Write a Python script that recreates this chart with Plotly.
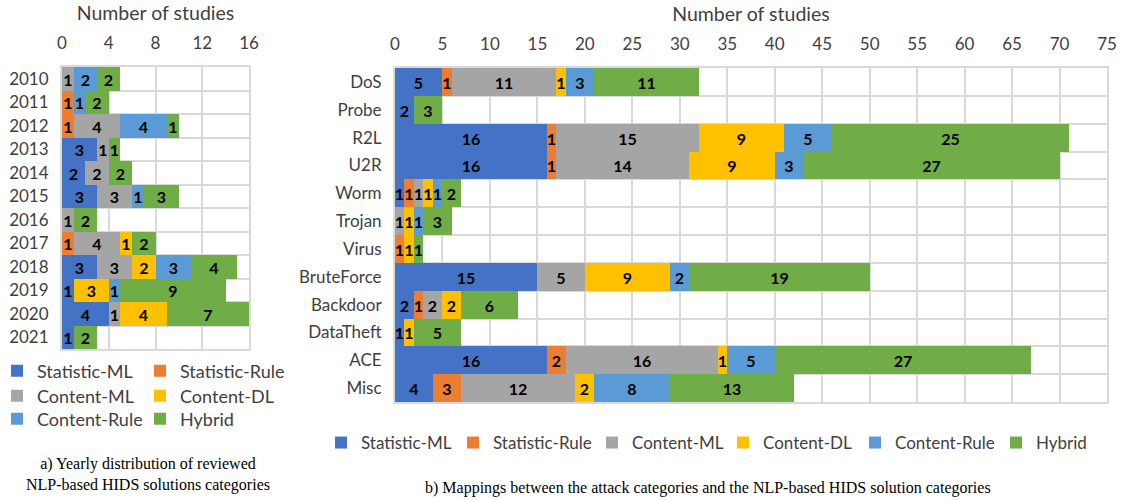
import plotly.graph_objects as go

# ---------------- data ----------------
categories = ["Statistic-ML", "Statistic-Rule", "Content-ML", "Content-DL", "Content-Rule", "Hybrid"]
colors = ["#4472C4", "#ED7D31", "#A5A5A5", "#FFC000", "#5B9BD5", "#70AD47"]

years = ["2010", "2011", "2012", "2013", "2014", "2015", "2016", "2017", "2018", "2019", "2020", "2021"]
year_stat_ml = [0, 0, 0, 3, 2, 3, 0, 0, 3, 1, 4, 1]
year_stat_rule = [0, 1, 1, 0, 0, 0, 0, 1, 0, 0, 0, 0]
year_content_ml = [1, 0, 4, 1, 2, 3, 1, 4, 3, 0, 1, 0]
year_content_dl = [0, 0, 0, 0, 0, 0, 0, 1, 2, 3, 4, 0]
year_content_rule = [2, 1, 4, 0, 0, 1, 0, 0, 3, 1, 0, 0]
year_hybrid = [2, 2, 1, 1, 2, 3, 2, 2, 4, 9, 7, 2]

attacks = ["DoS", "Probe", "R2L", "U2R", "Worm", "Trojan", "Virus", "BruteForce",
           "Backdoor", "DataTheft", "ACE", "Misc"]
att_stat_ml = [5, 2, 16, 16, 1, 0, 0, 15, 2, 1, 16, 4]
att_stat_rule = [1, 0, 1, 1, 1, 0, 1, 0, 1, 0, 2, 3]
att_content_ml = [11, 0, 15, 14, 1, 1, 0, 5, 2, 0, 16, 12]
att_content_dl = [1, 0, 9, 9, 1, 1, 1, 9, 2, 1, 1, 2]
att_content_rule = [3, 0, 5, 3, 1, 1, 0, 2, 0, 0, 5, 8]
att_hybrid = [11, 3, 25, 27, 2, 3, 1, 19, 6, 5, 27, 13]

left_ticks = [0, 4, 8, 12, 16]
right_ticks = list(range(0, 80, 5))

year_series = [year_stat_ml, year_stat_rule, year_content_ml, year_content_dl, year_content_rule, year_hybrid]
att_series = [att_stat_ml, att_stat_rule, att_content_ml, att_content_dl, att_content_rule, att_hybrid]

# ---------------- styling ----------------
FONT = "Lato"
GRID = "#D9D9D9"
TXT = "#404040"
W, H = 1123, 500
LABEL_SIZE = 16
SYM_OFFSET = 19  # px from legend left edge to symbol centre

# legend placements (symbol centre x, row centre y) in pixels
left_leg_pos = [(16, 371), (159, 371), (16, 396), (159, 396), (16, 419), (159, 419)]
right_leg_pos = [(340, 443), (472, 443), (611, 443), (742, 443), (874, 443), (1015, 443)]

fig = go.Figure()

left_ids = [f"legend{2 + i}" for i in range(6)]
right_ids = ["legend"] + [f"legend{8 + i}" for i in range(5)]

for i, (name, col) in enumerate(zip(categories, colors)):
    vals = year_series[i]
    fig.add_trace(go.Bar(
        y=years, x=vals, orientation="h", name=name, marker=dict(color=col, line=dict(width=0)),
        text=[str(v) if v else "" for v in vals], textposition="inside",
        insidetextanchor="middle", textangle=0,
        textfont=dict(family=FONT, size=LABEL_SIZE, color="black", weight="bold"),
        xaxis="x", yaxis="y", legend=left_ids[i], showlegend=True, hoverinfo="skip",
    ))

for i, (name, col) in enumerate(zip(categories, colors)):
    vals = att_series[i]
    fig.add_trace(go.Bar(
        y=attacks, x=vals, orientation="h", name=name, marker=dict(color=col, line=dict(width=0)),
        text=[str(v) if v else "" for v in vals], textposition="inside",
        insidetextanchor="middle", textangle=0,
        textfont=dict(family=FONT, size=LABEL_SIZE, color="black", weight="bold"),
        xaxis="x2", yaxis="y2", legend=right_ids[i], showlegend=True, hoverinfo="skip",
    ))

def xax(domain, rng, ticks, anchor):
    return dict(
        domain=domain, range=rng, tickvals=ticks, side="top", anchor=anchor,
        showgrid=True, gridcolor=GRID, gridwidth=2, zeroline=False,
        showline=True, mirror=True, linecolor=GRID, linewidth=2, layer="below traces",
        ticks="", ticklabelstandoff=9, automargin=False,
        tickfont=dict(family=FONT, size=17, color=TXT),
        title=dict(text="Number of studies", font=dict(family=FONT, size=19.5, color=TXT), standoff=6),
        fixedrange=True,
    )

def yax(domain, cats, anchor):
    return dict(
        domain=domain, type="category", categoryorder="array", categoryarray=cats,
        autorange="reversed", anchor=anchor, tickson="boundaries",
        showgrid=True, gridcolor=GRID, gridwidth=2, automargin=False,
        showline=True, mirror=True, linecolor=GRID, linewidth=2, layer="below traces",
        ticks="", ticklabelstandoff=8,
        tickfont=dict(family=FONT, size=17, color=TXT), fixedrange=True,
    )

def leg(pos, size):
    cx, cy = pos
    return dict(orientation="h", x=(cx - SYM_OFFSET) / W, xanchor="left", y=1 - cy / H, yanchor="middle",
                font=dict(family=FONT, size=size, color=TXT), bgcolor="rgba(0,0,0,0)")

legends = {}
for lid, p in zip(left_ids, left_leg_pos):
    legends[lid] = leg(p, 18)
for lid, p in zip(right_ids, right_leg_pos):
    legends[lid] = leg(p, 17)

fig.update_layout(
    width=W, height=H,
    margin=dict(l=0, r=0, t=0, b=0, autoexpand=False),
    paper_bgcolor="white", plot_bgcolor="white",
    showlegend=True,
    barmode="stack", bargap=0,
    uniformtext=dict(minsize=LABEL_SIZE, mode="show"),
    xaxis=xax([62 / W, 249 / W], [0, 16], left_ticks, "y"),
    yaxis=yax([1 - 349 / H, 1 - 67 / H], years, "x"),
    xaxis2=xax([395 / W, 1107 / W], [0, 75], right_ticks, "y2"),
    yaxis2=yax([1 - 402 / H, 1 - 68 / H], attacks, "x2"),
    annotations=[
        dict(text="a) Yearly distribution of reviewed<br>NLP-based HIDS solutions categories",
             xref="paper", yref="paper", x=148 / W, y=1 - 474 / H, xanchor="center", yanchor="middle",
             showarrow=False, font=dict(family="Liberation Serif", size=16, color="black")),
        dict(text="b) Mappings between the attack categories and the NLP-based HIDS solution categories",
             xref="paper", yref="paper", x=708 / W, y=1 - 488 / H, xanchor="center", yanchor="middle",
             showarrow=False, font=dict(family="Liberation Serif", size=16, color="black")),
    ],
    **legends,
)

fig.write_html("out.html", post_script="document.body.style.margin='0';",
               config={"displayModeBar": False})
